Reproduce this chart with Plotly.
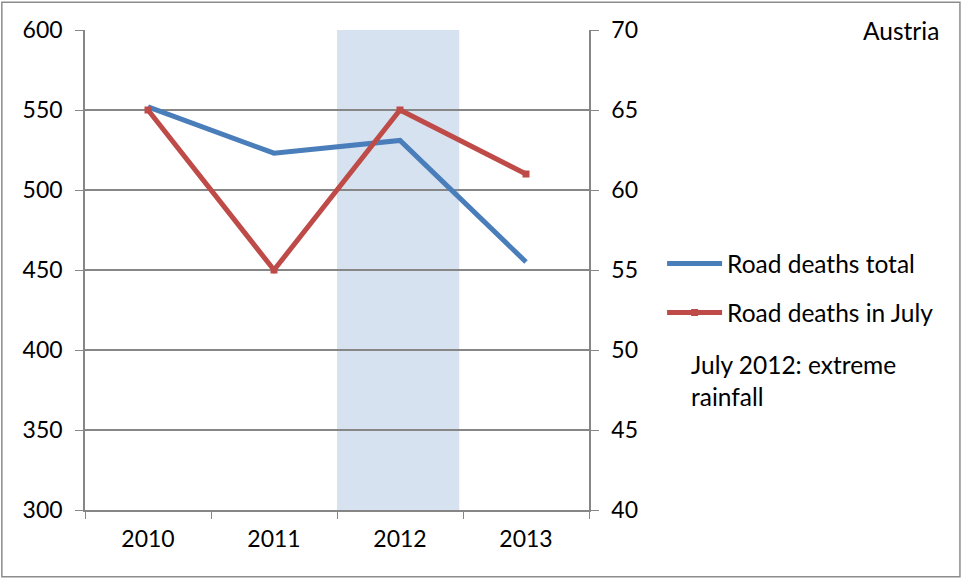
import plotly.graph_objects as go

years = ["2010", "2011", "2012", "2013"]
deaths_total = [552, 523, 531, 455]
deaths_july = [65, 55, 65, 61]
left_ticks = [300, 350, 400, 450, 500, 550, 600]
right_ticks = [40, 45, 50, 55, 60, 65, 70]

BLUE = "#4A7EBB"
RED = "#BE4B48"
GRID = "#868686"
FONT = "Lato"
FS = 23
FS_TEXT = 24.5

fig = go.Figure()

fig.add_trace(go.Scatter(
    x=years, y=deaths_total, name="Road deaths total",
    mode="lines", line=dict(color=BLUE, width=5),
    legendgroup="a",
))
fig.add_trace(go.Scatter(
    x=years, y=deaths_july, name="Road deaths in July",
    mode="lines+markers", line=dict(color=RED, width=5),
    marker=dict(symbol="square", size=7, color=RED),
    yaxis="y2", legendgroup="b",
))

# highlighted year (July 2012 rainfall)
fig.add_shape(type="rect", xref="x", yref="paper", x0=1.5, x1=2.47, y0=0, y1=1,
              fillcolor="#D7E2F0", line_width=0, layer="below")

# outer chart frame
fig.add_shape(type="rect", xref="paper", yref="paper",
              x0=-0.165, x1=1.736, y0=-0.139, y1=1.058,
              line=dict(color="#8C8C8C", width=1.5), fillcolor="rgba(0,0,0,0)")

fig.add_annotation(xref="paper", yref="paper", x=1.699, y=1.0, xanchor="right", yanchor="middle",
                   text="Austria", showarrow=False, font=dict(size=FS_TEXT, color="black", family=FONT))
fig.add_annotation(xref="paper", yref="paper", x=1.198, y=0.269, xanchor="left", yanchor="middle",
                   align="left", text="July 2012: extreme<br>rainfall", showarrow=False,
                   font=dict(size=FS_TEXT, color="black", family=FONT))

fig.update_layout(
    width=963, height=579,
    margin=dict(l=85, r=374, t=30, b=69),
    paper_bgcolor="white", plot_bgcolor="rgba(0,0,0,0)",
    font=dict(family=FONT, size=FS, color="black"),
    showlegend=True,
    legend=dict(x=1.145, y=0.56, xanchor="left", yanchor="top",
                tracegroupgap=14, itemwidth=55, bgcolor="rgba(0,0,0,0)",
                font=dict(size=FS_TEXT, family=FONT)),
    xaxis=dict(type="category", tickson="boundaries", ticks="outside", ticklen=7,
               tickcolor=GRID, showline=True, linecolor=GRID, linewidth=1.5,
               showgrid=False, range=[-0.5, 3.5], ticklabelstandoff=8),
    yaxis=dict(range=[300, 600], tickvals=left_ticks, ticks="outside", ticklen=8,
               tickcolor=GRID, showline=True, linecolor=GRID, linewidth=1.5,
               showgrid=True, gridcolor=GRID, gridwidth=1.5, zeroline=False,
               ticklabelstandoff=8),
    yaxis2=dict(range=[40, 70], tickvals=right_ticks, overlaying="y", side="right",
                ticks="outside", ticklen=8, tickcolor=GRID, showline=True, linecolor=GRID,
                linewidth=1.5, showgrid=False, zeroline=False, ticklabelstandoff=8),
)

fig.write_html("out.html")
